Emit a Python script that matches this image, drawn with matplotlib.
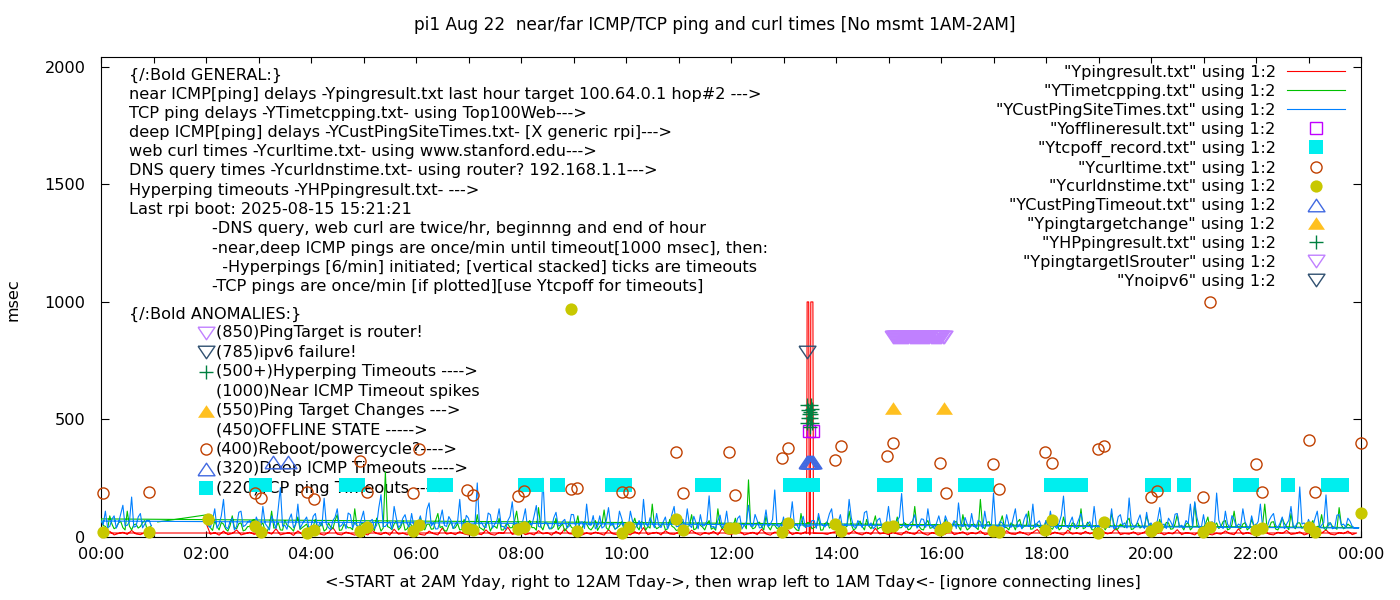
import numpy as np
import matplotlib
matplotlib.use("Agg")
import matplotlib.pyplot as plt
from matplotlib.ticker import MultipleLocator, FuncFormatter

plt.rcParams["font.family"] = ["DejaVu Sans"]
plt.rcParams["font.size"] = 11.6

# ---------------- data (x = hour of day, y = msec) ----------------
# near ICMP: 5-min samples 02:00..23:55 (yesterday), then 00:00..00:55 (today)
ping_day = [
    60, 12, 18, 8, 25, 10, 15, 30, 9, 14, 20, 11,
    16, 8, 22, 12, 35, 9, 14, 18, 7, 26, 11, 15,
    10, 24, 13, 8, 19, 40, 12, 9, 21, 14, 8, 17,
    13, 9, 28, 15, 10, 20, 8, 33, 12, 16, 9, 22,
    18, 11, 8, 25, 14, 9, 38, 12, 17, 10, 23, 13,
    9, 20, 14, 10, 30, 12, 8, 19, 15, 42, 11, 16,
    22, 10, 15, 9, 27, 13, 18, 8, 24, 11, 35, 14,
    12, 26, 9, 17, 11, 21, 14, 8, 31, 13, 10, 19,
    15, 9, 23, 12, 40, 10, 16, 20, 9, 27, 13, 11,
    20, 13, 10, 29, 15, 8, 18, 12, 24, 9, 36, 14,
    11, 17, 25, 9, 14, 20, 10, 33, 13, 8, 21, 16,
    14, 30, 10, 18, 12, 22, 9, 16, 15, 15, 11, 19,
    23, 10, 16, 12, 28, 14, 9, 20, 11, 37, 13, 17,
    10, 21, 13, 9, 25, 16, 11, 30, 14, 8, 19, 12,
    17, 12, 34, 10, 15, 22, 9, 18, 13, 26, 10, 14,
    12, 19, 9, 27, 13, 11, 23, 15, 8, 20, 32, 10,
    16, 10, 21, 14, 9, 29, 12, 17, 11, 24, 13, 19,
    9, 25, 13, 18, 38, 10, 15, 12, 22, 9, 16, 27,
    14, 11, 20, 9, 17, 13, 31, 10, 18, 15, 9, 23,
    21, 13, 9, 16, 12, 26, 14, 10, 35, 11, 19, 12,
    10, 18, 24, 12, 9, 20, 15, 28, 11, 14, 22, 9,
    15, 22, 11, 17, 30, 12, 9, 19, 14, 25, 10, 17,
]
ping_night = [17, 12, 24, 9, 15, 20, 11, 28, 13, 10, 18, 14]
ping_spike_t = [13.44, 13.45, 13.48, 13.49, 13.51, 13.52, 13.56, 13.57]
ping_spike_v = [15, 1000, 1000, 15, 15, 1000, 1000, 15]

# TCP ping: 2.5-min samples
tcp_first_t = [1.08]
tcp_first_v = [64]
tcp_day = [
    94, 52, 40, 28, 70, 45, 30, 62, 55, 34, 25, 48, 90, 38, 35, 57, 60, 26, 30, 44, 45, 68, 75, 33,
    35, 50, 60, 27, 25, 46, 110, 38, 40, 63, 30, 29, 70, 51, 45, 36, 25, 58, 85, 32, 40, 47, 55, 30,
    30, 44, 75, 36, 45, 59, 25, 33, 60, 42, 35, 70, 95, 28, 30, 53, 50, 39, 40, 31, 120, 48, 35, 56,
    60, 34, 30, 49, 45, 27, 80, 55, 25, 38, 277, 44, 40, 31, 55, 66, 30, 42, 70, 29, 35, 57, 50, 37,
    40, 29, 85, 46, 30, 54, 55, 33, 35, 71, 100, 40, 45, 27, 25, 49, 65, 36, 40, 58, 30, 32, 75, 43,
    30, 55, 50, 34, 95, 41, 35, 28, 60, 63, 25, 46, 45, 37, 80, 30, 30, 52, 55, 39, 40, 67, 110, 45,
    45, 33, 30, 58, 70, 40, 40, 29, 125, 47, 30, 61, 55, 35, 35, 44, 80, 31, 45, 56, 25, 38, 60, 42,
    35, 48, 90, 30, 40, 65, 55, 37, 30, 43, 70, 28, 45, 54, 115, 39, 30, 60, 50, 33, 40, 47, 65, 36,
    55, 31, 35, 52, 80, 44, 30, 66, 60, 29, 45, 38, 140, 50, 35, 41, 50, 62, 30, 35, 75, 46, 40, 28,
    30, 57, 65, 36, 45, 48, 95, 31, 35, 60, 50, 42, 30, 55, 70, 33, 40, 29, 120, 51, 35, 44, 55, 37,
    40, 46, 80, 28, 30, 58, 55, 35, 243, 49, 35, 40, 60, 63, 45, 30, 90, 44, 30, 52, 50, 36, 40, 59,
    70, 32, 35, 54, 55, 41, 30, 27, 100, 48, 45, 62, 60, 35, 40, 46, 85, 29, 30, 57, 65, 38, 45, 43,
    35, 60, 60, 31, 40, 45, 110, 52, 30, 36, 55, 68, 45, 30, 75, 47, 35, 55, 90, 33, 40, 41, 50, 64,
    60, 28, 30, 46, 85, 39, 40, 62, 55, 30, 35, 51, 130, 44, 45, 33, 30, 58, 70, 37, 40, 49, 55, 31,
    40, 53, 75, 30, 35, 44, 60, 67, 45, 29, 95, 48, 30, 38, 50, 56, 40, 31, 160, 45, 35, 62, 65, 34,
    45, 36, 35, 59, 90, 42, 40, 30, 60, 51, 30, 64, 75, 37, 45, 48, 110, 33, 35, 55, 55, 40, 40, 28,
    70, 47, 40, 33, 55, 61, 30, 38, 85, 45, 45, 29, 60, 56, 35, 42, 120, 35, 40, 63, 50, 31, 30, 49,
    35, 54, 65, 30, 45, 41, 100, 58, 30, 36, 55, 47, 40, 69, 80, 32, 35, 50, 60, 38, 45, 44, 90, 57,
    50, 29, 30, 46, 75, 38, 40, 62, 60, 33, 35, 55, 95, 43, 45, 30, 55, 60, 30, 41, 145, 49, 40, 35,
    40, 58, 85, 32, 30, 47, 60, 36, 45, 66, 70, 30, 35, 52, 110, 44, 40, 35, 55, 61, 30, 39, 75, 46,
    55, 30, 35, 50, 140, 41, 40, 63, 65, 34, 30, 48, 80, 57, 45, 31, 100, 45, 35, 60, 60, 37, 45, 42,
    35, 53, 70, 31, 45, 46, 95, 38, 30, 59, 60, 44, 40, 33, 125, 52, 35, 40, 55, 47, 45, 36, 40, 40,
]
tcp_night = [77, 49, 45, 32, 90, 55, 35, 41, 60, 67, 40, 30, 110, 46, 30, 52, 55, 38, 45, 61, 70, 34, 40, 48]

# deep ICMP: 2.5-min samples
cust_day = [
    95, 48, 40, 72, 120, 38, 55, 90, 160, 42, 35, 66, 80, 30, 45, 105, 110, 44, 50, 62, 70, 35, 40, 85,
    60, 35, 130, 58, 45, 30, 90, 64, 35, 120, 210, 46, 50, 33, 75, 98, 40, 52, 140, 37, 55, 70, 85, 41,
    45, 88, 100, 36, 60, 47, 165, 55, 40, 31, 70, 84, 120, 43, 50, 65, 35, 102, 95, 39, 60, 48, 45, 76,
    110, 42, 40, 67, 75, 36, 50, 125, 180, 44, 45, 58, 65, 33, 130, 80, 40, 51, 80, 95, 55, 38, 100, 46,
    50, 62, 90, 35, 40, 118, 145, 47, 60, 34, 35, 73, 115, 49, 45, 87, 70, 36, 55, 64, 160, 41, 40, 92,
    80, 37, 45, 61, 230, 55, 60, 44, 40, 102, 95, 38, 55, 70, 120, 45, 45, 33, 70, 88, 150, 52, 60, 41,
    40, 75, 120, 36, 55, 50, 90, 134, 45, 42, 250, 60, 60, 35, 40, 82, 105, 47, 50, 66, 75, 39, 45, 96,
    95, 44, 40, 63, 65, 36, 140, 52, 50, 91, 35, 45, 90, 38, 45, 70, 125, 48, 60, 34, 40, 110, 80, 43,
    55, 38, 110, 67, 40, 45, 70, 36, 160, 58, 45, 82, 60, 40, 100, 49, 40, 64, 85, 35, 55, 97, 130, 44,
    45, 70, 75, 39, 120, 52, 40, 88, 60, 35, 95, 46, 50, 68, 175, 42, 45, 37, 70, 93, 40, 51, 110, 38,
    60, 45, 40, 79, 90, 34, 50, 62, 135, 47, 45, 96, 70, 39, 40, 57, 115, 44, 55, 74, 200, 48, 45, 36,
    85, 41, 40, 66, 150, 50, 55, 34, 60, 88, 40, 46, 45, 70, 70, 37, 100, 58, 50, 43, 65, 99, 120, 45,
    40, 63, 95, 36, 55, 48, 160, 82, 45, 39, 70, 55, 40, 104, 110, 46, 60, 35, 45, 72, 80, 40, 50, 61,
    130, 47, 45, 36, 70, 85, 185, 52, 40, 44, 60, 68, 95, 38, 50, 77, 75, 41, 120, 56, 45, 35, 60, 90,
    50, 39, 90, 64, 40, 48, 70, 36, 145, 57, 45, 83, 55, 40, 100, 46, 40, 71, 65, 37, 110, 52, 50, 44,
    187, 48, 45, 66, 60, 38, 95, 54, 40, 79, 120, 42, 55, 35, 75, 98, 45, 51, 140, 40, 60, 69, 40, 45,
    70, 43, 110, 57, 45, 36, 60, 92, 174, 48, 40, 63, 85, 39, 50, 76, 100, 45, 45, 55, 65, 37, 130, 50,
    45, 68, 80, 40, 55, 47, 120, 35, 40, 86, 95, 52, 60, 38, 166, 61, 45, 43, 70, 94, 50, 36, 105, 48,
    60, 41, 40, 73, 125, 50, 55, 36, 80, 65, 45, 97, 100, 44, 50, 39, 70, 58, 140, 47, 150, 84, 45, 40,
    95, 38, 50, 60, 65, 45, 187, 72, 45, 36, 110, 55, 40, 91, 75, 42, 55, 48, 120, 64, 45, 37, 90, 50,
    50, 66, 140, 43, 45, 38, 70, 88, 100, 50, 40, 59, 85, 36, 55, 71, 130, 47, 45, 62, 213, 55, 60, 41,
    75, 49, 45, 80, 110, 38, 50, 62, 179, 46, 60, 35, 40, 93, 95, 51, 55, 42, 80, 67, 45, 39, 38, 38,
]
cust_night = [68, 52, 110, 40, 45, 76, 90, 38, 60, 98, 135, 47, 50, 64, 170, 42, 45, 85, 100, 39, 55, 71, 70, 48]

offline_t = [13.49, 13.57]
offline_v = [450, 450]

tcpoff_t = [2.96, 3.00, 3.04, 3.08, 3.13,
            4.66, 4.70, 4.74, 4.78, 4.82, 4.86, 4.89,
            6.35, 6.40, 6.45, 6.50, 6.55, 6.58,
            8.07, 8.12, 8.17, 8.22, 8.26, 8.30,
            8.69, 8.71,
            9.74, 9.79, 9.84, 9.89, 9.94, 9.99,
            11.44, 11.49, 11.54, 11.59, 11.63, 11.67,
            13.13, 13.18, 13.23, 13.28, 13.33, 13.38, 13.43, 13.48, 13.53, 13.57,
            14.92, 14.97, 15.02, 15.07, 15.11, 15.15,
            15.68, 15.70,
            16.45, 16.50, 16.55, 16.60, 16.87,
            18.09, 18.14, 18.19, 18.24, 18.29, 18.34, 18.39, 18.44, 18.49, 18.54, 18.59, 18.66,
            20.01, 20.06, 20.11, 20.16, 20.20, 20.24,
            20.62,
            21.70, 21.75, 21.80, 21.85, 21.89, 21.93,
            22.60,
            23.38, 23.43, 23.48, 23.53, 23.58, 23.63]
tcpoff_v = [220] * len(tcpoff_t)

curl_t = [0.03, 0.92, 2.93, 3.05, 3.92, 4.06, 4.93, 5.06, 5.94, 6.06,
          6.97, 7.09, 7.94, 8.06, 8.95, 9.07, 9.92, 10.06, 10.95, 11.09,
          11.96, 12.08, 12.97, 13.09, 13.98, 14.10, 14.97, 15.09, 15.98, 16.10,
          16.99, 17.10, 17.98, 18.11, 18.99, 19.11, 20.00, 20.11, 20.99, 21.12,
          22.00, 22.12, 23.01, 23.12, 24.00]
curl_v = [187, 191, 187, 166, 191, 162, 323, 191, 187, 374,
          200, 179, 174, 196, 204, 209, 191, 191, 362, 187,
          362, 179, 336, 379, 328, 387, 345, 400, 315, 187,
          311, 204, 362, 315, 374, 387, 170, 196, 170, 1000,
          311, 191, 413, 191, 400]

dns_t = [0.03, 0.92, 2.04, 2.93, 3.05, 3.92, 4.06, 4.93, 5.06, 5.94,
         6.06, 6.97, 7.09, 7.94, 8.06, 8.95, 9.07, 9.92, 10.06, 10.95,
         11.09, 11.96, 12.08, 12.97, 13.09, 13.98, 14.10, 14.97, 15.09, 15.98,
         16.10, 16.99, 17.10, 17.98, 18.11, 18.99, 19.11, 20.00, 20.11, 20.99,
         21.12, 22.00, 22.12, 23.01, 23.12, 24.00]
dns_v = [21, 21, 77, 47, 21, 17, 30, 26, 43, 26,
         51, 38, 30, 34, 43, 970, 26, 17, 43, 77,
         30, 38, 38, 21, 60, 55, 26, 43, 47, 30,
         43, 26, 21, 30, 72, 17, 64, 26, 43, 21,
         43, 30, 38, 43, 21, 102]

deep_to_t = [3.28, 3.56, 13.45, 13.47, 13.49, 13.51, 13.53, 13.55, 13.57]
deep_to_v = [320] * len(deep_to_t)

change_t = [15.09, 16.06]
change_v = [550, 550]

hp_t = [13.45, 13.45, 13.47, 13.47, 13.48, 13.50, 13.50, 13.52, 13.52, 13.53, 13.55, 13.55]
hp_v = [485, 562, 505, 540, 523, 530, 470, 560, 505, 523, 486, 545]

router_t = [15.08, 15.10, 15.12, 15.14, 15.16, 15.18, 15.20, 15.22, 15.24, 15.26,
            15.28, 15.30, 15.32, 15.34, 15.36, 15.38, 15.40, 15.42, 15.44, 15.46,
            15.48, 15.50, 15.52, 15.54, 15.56, 15.58, 15.60, 15.62, 15.64, 15.66,
            15.68, 15.70, 15.72, 15.74, 15.76, 15.78, 15.80, 15.82, 15.84, 15.86,
            15.88, 15.90, 15.92, 15.94, 15.96, 15.98, 16.00, 16.03, 16.05]
router_v = [850] * len(router_t)

noipv6_t = [13.45]
noipv6_v = [785]


def day_times(vals, per_hour):
    return 2 + np.arange(len(vals)) / per_hour


def night_times(vals, per_hour):
    return np.arange(len(vals)) / per_hour


# file order: 2AM yday -> midnight, then wrap back to 00:00 -> 1AM
pt = np.concatenate([day_times(ping_day, 12), ping_spike_t])
pv = np.concatenate([ping_day, ping_spike_v])
o = np.argsort(pt, kind="stable")
ping_t = np.concatenate([pt[o], night_times(ping_night, 12)])
ping_v = np.concatenate([pv[o], ping_night])

tcp_t = np.concatenate([tcp_first_t, day_times(tcp_day, 24), night_times(tcp_night, 24)])
tcp_v = np.concatenate([tcp_first_v, tcp_day, tcp_night])

cust_t = np.concatenate([day_times(cust_day, 24), night_times(cust_night, 24)])
cust_v = np.concatenate([cust_day, cust_night])

# ---------------- styles ----------------
tri_up = [(-1.35, -1), (1.35, -1), (0, 1), (-1.35, -1)]
tri_dn = [(-1.35, 1), (1.35, 1), (0, -1), (-1.35, 1)]

sty = {
    "offline": dict(marker="s", ms=9.2, mfc="none", mec="#c000ff", mew=1.0),
    "tcpoff": dict(marker="s", ms=9.4, mfc="#00eeee", mec="#00eeee", mew=0),
    "curl": dict(marker="o", ms=8.0, mfc="none", mec="#c04000", mew=1.0),
    "dns": dict(marker="o", ms=8.8, mfc="#c8c800", mec="#c8c800", mew=0),
    "deep": dict(marker=tri_up, ms=12.2, mfc="none", mec="#4169e1", mew=1.0),
    "change": dict(marker=tri_up, ms=12.2, mfc="#ffc020", mec="#ffc020", mew=0),
    "hyper": dict(marker="+", ms=9.4, mfc="none", mec="#008040", mew=1.0),
    "router": dict(marker=tri_dn, ms=12.2, mfc="none", mec="#c080ff", mew=1.0),
    "ipv6": dict(marker=tri_dn, ms=12.2, mfc="none", mec="#305070", mew=1.0),
}

fig = plt.figure(figsize=(14, 6), dpi=100)
ax = fig.add_axes([101 / 1400, 63 / 600, 1260 / 1400, 480 / 600])

lab = '"{}" using 1:2'
ax.plot(ping_t, ping_v, color="#ff0000", lw=0.8, label=lab.format("Ypingresult.txt"), zorder=3)
ax.plot(tcp_t, tcp_v, color="#00c000", lw=0.8, label=lab.format("YTimetcpping.txt"), zorder=3)
ax.plot(cust_t, cust_v, color="#0080ff", lw=0.8, label=lab.format("YCustPingSiteTimes.txt"), zorder=3)

points = [
    ("offline", offline_t, offline_v, "Yofflineresult.txt"),
    ("tcpoff", tcpoff_t, tcpoff_v, "Ytcpoff_record.txt"),
    ("curl", curl_t, curl_v, "Ycurltime.txt"),
    ("dns", dns_t, dns_v, "Ycurldnstime.txt"),
    ("deep", deep_to_t, deep_to_v, "YCustPingTimeout.txt"),
    ("change", change_t, change_v, "Ypingtargetchange"),
    ("hyper", hp_t, hp_v, "YHPpingresult.txt"),
    ("router", router_t, router_v, "YpingtargetISrouter"),
    ("ipv6", noipv6_t, noipv6_v, "Ynoipv6"),
]
for key, t, v, name in points:
    ax.plot(t, v, ls="none", label=lab.format(name), zorder=4, clip_on=False, **sty[key])

ax.set_xlim(0, 24)
ax.set_ylim(0, 2042)
ax.xaxis.set_major_locator(MultipleLocator(2))
ax.xaxis.set_minor_locator(MultipleLocator(1))
ax.xaxis.set_major_formatter(FuncFormatter(lambda h, p: "%02d:00" % (int(round(h)) % 24)))
ax.yaxis.set_major_locator(MultipleLocator(500))
ax.tick_params(which="both", direction="in", top=True, right=True, length=4, width=0.8)
ax.tick_params(axis="y", length=6, pad=11)
ax.tick_params(axis="x", pad=7)
for s in ax.spines.values():
    s.set_linewidth(0.8)

# ---------------- annotations ----------------
general = [
    "{/:Bold GENERAL:}",
    "near ICMP[ping] delays -Ypingresult.txt last hour target 100.64.0.1 hop#2 --->",
    "TCP ping delays -YTimetcpping.txt- using Top100Web--->",
    "deep ICMP[ping] delays -YCustPingSiteTimes.txt- [X generic rpi]--->",
    "web curl times -Ycurltime.txt- using www.stanford.edu--->",
    "DNS query times -Ycurldnstime.txt- using router? 192.168.1.1--->",
    "Hyperping timeouts -YHPpingresult.txt- --->",
    "Last rpi boot: 2025-08-15 15:21:21",
]
notes = [
    "-DNS query, web curl are twice/hr, beginnng and end of hour",
    "-near,deep ICMP pings are once/min until timeout[1000 msec], then:",
    "  -Hyperpings [6/min] initiated; [vertical stacked] ticks are timeouts",
    "-TCP pings are once/min [if plotted][use Ytcpoff for timeouts]",
]
anomalies = [
    ("(850)PingTarget is router!", "router"),
    ("(785)ipv6 failure!", "ipv6"),
    ("(500+)Hyperping Timeouts ---->", "hyper"),
    ("(1000)Near ICMP Timeout spikes", None),
    ("(550)Ping Target Changes --->", "change"),
    ("(450)OFFLINE STATE ----->", None),
    ("(400)Reboot/powercycle?---->", "curl"),
    ("(320)Deep ICMP Timeouts ---->", "deep"),
    ("(220)TCP ping Timeouts ---->", "tcpoff"),
]


def ay(py):
    return (537 - py) / 480


def ax_x(px):
    return (px - 101) / 1260


tr = ax.transAxes
for i, s in enumerate(general):
    ax.text(ax_x(129), ay(75 + 19.2 * i), s, transform=tr, va="center", ha="left", zorder=1)
for i, s in enumerate(notes):
    ax.text(ax_x(212), ay(229 + 19.2 * i), s, transform=tr, va="center", ha="left", zorder=1)
ax.text(ax_x(129), ay(314), "{/:Bold ANOMALIES:}", transform=tr, va="center", ha="left", zorder=1)
for i, (s, key) in enumerate(anomalies):
    yy = ay(333 + 19.4 * i)
    ax.text(ax_x(216), yy, s, transform=tr, va="center", ha="left", zorder=1)
    if key:
        ax.plot([ax_x(206)], [yy], transform=tr, ls="none", zorder=2, **sty[key])

ax.legend(loc="upper right", bbox_to_anchor=(1 - 16 / 1260, 1 - 8 / 480),
          frameon=False, markerfirst=False, handlelength=3.6, handletextpad=0.7,
          labelspacing=0.24, borderpad=0, borderaxespad=0, fontsize=11.6)

fig.text(715 / 1400, 1 - 25 / 600,
         "pi1 Aug 22  near/far ICMP/TCP ping and curl times [No msmt 1AM-2AM]",
         ha="center", va="center", fontsize=12.2)
fig.text(733 / 1400, 1 - 583 / 600,
         "<-START at 2AM Yday, right to 12AM Tday->, then wrap left to 1AM Tday<- [ignore connecting lines]",
         ha="center", va="center")
fig.text(13 / 1400, 1 - 300 / 600, "msec", rotation=90, ha="center", va="center")

fig.savefig("out.png", dpi=100)
